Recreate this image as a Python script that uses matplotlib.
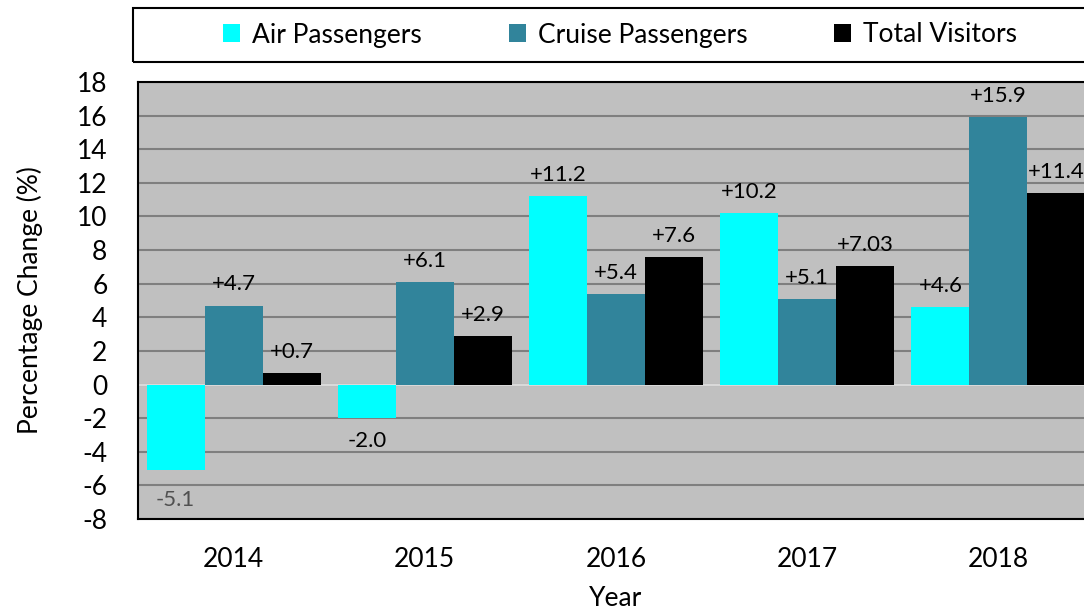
import numpy as np
import matplotlib
matplotlib.use('Agg')
import matplotlib.pyplot as plt
from matplotlib.patches import Rectangle

plt.rcParams['font.family'] = ['Lato', 'DejaVu Sans']
plt.rcParams['axes.unicode_minus'] = False

# data
years = ['2014', '2015', '2016', '2017', '2018']
air = [-5.1, -2.0, 11.2, 10.2, 4.6]
cruise = [4.7, 6.1, 5.4, 5.1, 15.9]
total = [0.7, 2.9, 7.6, 7.03, 11.4]
air_labels = ['-5.1', '-2.0', '+11.2', '+10.2', '+4.6']
cruise_labels = ['+4.7', '+6.1', '+5.4', '+5.1', '+15.9']
total_labels = ['+0.7', '+2.9', '+7.6', '+7.03', '+11.4']

W, H = 1084, 612
fig = plt.figure(figsize=(W / 100, H / 100), dpi=100)
# axes runs past the right edge, as in the original
ax = fig.add_axes([138 / W, 1 - 519 / H, (1094 - 138) / W, (519 - 82) / H])
ax.set_facecolor('#C0C0C0')

x = np.arange(len(years))
w = 0.303
series = [
    (air, air_labels, '#00FFFF', 'Air Passengers'),
    (cruise, cruise_labels, '#31849B', 'Cruise Passengers'),
    (total, total_labels, '#000000', 'Total Visitors'),
]
handles = []
for i, (vals, labs, col, name) in enumerate(series):
    pos = x + (i - 1) * w
    b = ax.bar(pos, vals, w, color=col, label=name, zorder=3)
    handles.append(b)
    for px, v, t in zip(pos, vals, labs):
        if v >= 0:
            ax.annotate(t, (px, v), xytext=(0, 8), textcoords='offset points',
                        ha='center', va='bottom', fontsize=16, color='black')
        else:
            c = '#505050' if v < -4 else 'black'
            off = -14 if v < -4 else -9
            ax.annotate(t, (px, v), xytext=(0, off), textcoords='offset points',
                        ha='center', va='top', fontsize=16, color=c)

ax.set_ylim(-8, 18)
ax.set_yticks(range(-8, 19, 2))
ax.set_xlim(-0.5, len(years) - 0.5)
ax.set_xticks(x)
ax.set_xticklabels(years)
ax.yaxis.grid(True, color='#7F7F7F', linewidth=1.5, zorder=0)
ax.axhline(0, color='#D9D9D9', linewidth=1.5, zorder=2)
ax.tick_params(axis='both', length=0, labelsize=19)
ax.tick_params(axis='y', pad=22)
ax.tick_params(axis='x', pad=20)
for s in ax.spines.values():
    s.set_linewidth(1.5)
    s.set_color('black')

ax.set_xlabel('Year', fontsize=19, labelpad=10)
ax.set_ylabel('Percentage Change (%)', fontsize=19, labelpad=24)

# legend box across the top
fig.patches.append(Rectangle((133 / W, 1 - 62 / H), (1100 - 133) / W, 54 / H,
                             transform=fig.transFigure, fill=False,
                             edgecolor='black', linewidth=1.5))
fig.legend(handles=handles, loc='center', bbox_to_anchor=(620 / W, 1 - 35 / H),
           ncol=3, frameon=False, fontsize=19, handlelength=0.65, handleheight=0.65,
           handletextpad=0.45, columnspacing=3.3)

fig.savefig('out.png', dpi=100)
